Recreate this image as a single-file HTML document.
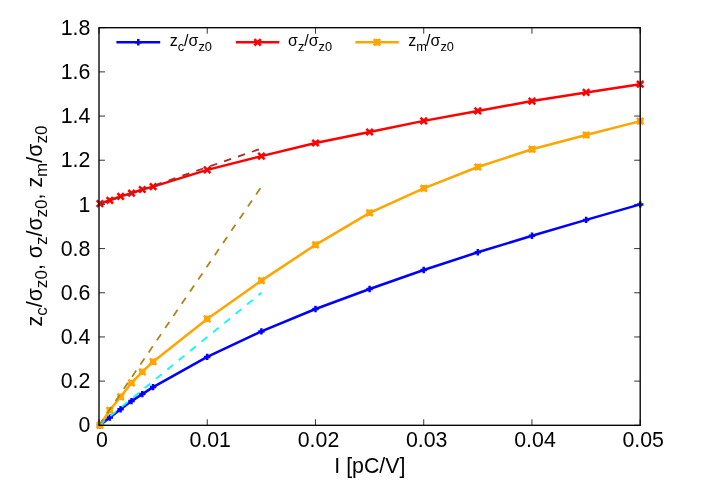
<!DOCTYPE html>
<html><head><meta charset="utf-8"><title>plot</title>
<style>
html,body{margin:0;padding:0;background:#fff;}
body{width:706px;height:494px;overflow:hidden;}
svg{display:block;will-change:transform;}
text{font-family:"Liberation Sans",sans-serif;fill:#000;}
.t{font-size:21.33px;}
.k{font-size:16px;}
</style></head><body>
<svg width="706" height="494" viewBox="0 0 706 494">
<rect x="0" y="0" width="706" height="494" fill="#ffffff"/>
<path d="M99.0,425.30h6M640.2,425.30h-6M99.0,381.12h6M640.2,381.12h-6M99.0,336.94h6M640.2,336.94h-6M99.0,292.77h6M640.2,292.77h-6M99.0,248.59h6M640.2,248.59h-6M99.0,204.41h6M640.2,204.41h-6M99.0,160.23h6M640.2,160.23h-6M99.0,116.06h6M640.2,116.06h-6M99.0,71.88h6M640.2,71.88h-6M99.0,27.70h6M640.2,27.70h-6M99.00,425.3v-6M99.00,27.7v6M207.24,425.3v-6M207.24,27.7v6M315.48,425.3v-6M315.48,27.7v6M423.72,425.3v-6M423.72,27.7v6M531.96,425.3v-6M531.96,27.7v6M640.20,425.3v-6M640.20,27.7v6" stroke="#000" stroke-width="0.8" fill="none"/>
<text class="t" x="90.3" y="432.4" text-anchor="end">0</text>
<text class="t" x="90.3" y="388.2" text-anchor="end">0.2</text>
<text class="t" x="90.3" y="344.0" text-anchor="end">0.4</text>
<text class="t" x="90.3" y="299.9" text-anchor="end">0.6</text>
<text class="t" x="90.3" y="255.7" text-anchor="end">0.8</text>
<text class="t" x="90.3" y="211.5" text-anchor="end">1</text>
<text class="t" x="90.3" y="167.3" text-anchor="end">1.2</text>
<text class="t" x="90.3" y="123.2" text-anchor="end">1.4</text>
<text class="t" x="90.3" y="79.0" text-anchor="end">1.6</text>
<text class="t" x="90.3" y="34.8" text-anchor="end">1.8</text>
<text class="t" x="102.0" y="446.9" text-anchor="middle">0</text>
<text class="t" x="210.2" y="446.9" text-anchor="middle">0.01</text>
<text class="t" x="318.5" y="446.9" text-anchor="middle">0.02</text>
<text class="t" x="426.7" y="446.9" text-anchor="middle">0.03</text>
<text class="t" x="535.0" y="446.9" text-anchor="middle">0.04</text>
<text class="t" x="643.2" y="446.9" text-anchor="middle">0.05</text>
<text class="t" x="369.9" y="472.9" text-anchor="middle">I [pC/V]</text>
<text class="t" transform="translate(41.5,226) rotate(-90)" text-anchor="middle"><tspan dy="0">z</tspan><tspan font-size="17.07px" dy="5.9">c</tspan><tspan dy="-5.9">/σ</tspan><tspan font-size="17.07px" dy="5.9">z0</tspan><tspan dy="-5.9">, σ</tspan><tspan font-size="17.07px" dy="5.9">z</tspan><tspan dy="-5.9">/σ</tspan><tspan font-size="17.07px" dy="5.9">z0</tspan><tspan dy="-5.9">, z</tspan><tspan font-size="17.07px" dy="5.9">m</tspan><tspan dy="-5.9">/σ</tspan><tspan font-size="17.07px" dy="5.9">z0</tspan></text>
<g stroke="#0000ff" stroke-width="2.5" fill="none" stroke-linejoin="round"><path d="M116.4,42.3H160.2"/><polyline points="99.9,425.3 109.8,417.6 120.6,409.3 131.5,401.1 142.3,394.1 153.1,387.1 207.2,356.9 261.4,331.4 315.5,309.0 369.6,289.0 423.7,270.0 477.8,252.3 532.0,235.8 586.1,219.9 640.2,204.4"/><path stroke-width="2.5" d="M96.7,425.3H103.1M99.9,422.1V428.5M106.6,417.6H113.0M109.8,414.4V420.8M117.4,409.3H123.8M120.6,406.1V412.5M128.3,401.1H134.7M131.5,397.9V404.3M139.1,394.1H145.5M142.3,390.9V397.3M149.9,387.1H156.3M153.1,383.9V390.3M204.0,356.9H210.4M207.2,353.7V360.1M258.2,331.4H264.6M261.4,328.2V334.6M312.3,309.0H318.7M315.5,305.8V312.2M366.4,289.0H372.8M369.6,285.8V292.2M420.5,270.0H426.9M423.7,266.8V273.2M474.6,252.3H481.0M477.8,249.1V255.5M528.8,235.8H535.2M532.0,232.6V239.0M582.9,219.9H589.3M586.1,216.7V223.1M637.0,204.4H643.4M640.2,201.2V207.6M135.1,42.3H141.5M138.3,39.1V45.5"/></g>
<g stroke="#ff0000" stroke-width="2.5" fill="none" stroke-linejoin="round"><path d="M235.9,42.3H279.2"/><polyline points="99.9,203.6 109.8,200.3 120.6,196.4 131.5,193.2 142.3,189.5 153.1,186.6 207.2,169.9 261.4,156.1 315.5,143.0 369.6,132.0 423.7,120.9 477.8,110.9 532.0,101.1 586.1,92.4 640.2,84.2"/><path stroke-width="2.5" d="M96.7,200.4L103.1,206.8M96.7,206.8L103.1,200.4M106.6,197.1L113.0,203.5M106.6,203.5L113.0,197.1M117.4,193.2L123.8,199.6M117.4,199.6L123.8,193.2M128.3,190.0L134.7,196.4M128.3,196.4L134.7,190.0M139.1,186.3L145.5,192.7M139.1,192.7L145.5,186.3M149.9,183.4L156.3,189.8M149.9,189.8L156.3,183.4M204.0,166.7L210.4,173.1M204.0,173.1L210.4,166.7M258.2,152.9L264.6,159.3M258.2,159.3L264.6,152.9M312.3,139.8L318.7,146.2M312.3,146.2L318.7,139.8M366.4,128.8L372.8,135.2M366.4,135.2L372.8,128.8M420.5,117.7L426.9,124.1M420.5,124.1L426.9,117.7M474.6,107.7L481.0,114.1M474.6,114.1L481.0,107.7M528.8,97.9L535.2,104.3M528.8,104.3L535.2,97.9M582.9,89.2L589.3,95.6M582.9,95.6L589.3,89.2M637.0,81.0L643.4,87.4M637.0,87.4L643.4,81.0M254.4,39.1L260.8,45.5M254.4,45.5L260.8,39.1"/></g>
<g stroke="#ffa500" stroke-width="2.5" fill="none" stroke-linejoin="round"><path d="M355.4,42.3H398.7"/><polyline points="99.9,425.3 109.8,410.3 120.6,396.8 131.5,382.9 142.3,371.9 153.1,361.7 207.2,318.9 261.4,280.6 315.5,244.8 369.6,212.8 423.7,188.3 477.8,167.0 532.0,149.3 586.1,135.0 640.2,121.1"/><path stroke-width="2.5" d="M96.7,425.3H103.1M99.9,422.1V428.5M96.7,422.1L103.1,428.5M96.7,428.5L103.1,422.1M106.6,410.3H113.0M109.8,407.1V413.5M106.6,407.1L113.0,413.5M106.6,413.5L113.0,407.1M117.4,396.8H123.8M120.6,393.6V400.0M117.4,393.6L123.8,400.0M117.4,400.0L123.8,393.6M128.3,382.9H134.7M131.5,379.7V386.1M128.3,379.7L134.7,386.1M128.3,386.1L134.7,379.7M139.1,371.9H145.5M142.3,368.7V375.1M139.1,368.7L145.5,375.1M139.1,375.1L145.5,368.7M149.9,361.7H156.3M153.1,358.5V364.9M149.9,358.5L156.3,364.9M149.9,364.9L156.3,358.5M204.0,318.9H210.4M207.2,315.7V322.1M204.0,315.7L210.4,322.1M204.0,322.1L210.4,315.7M258.2,280.6H264.6M261.4,277.4V283.8M258.2,277.4L264.6,283.8M258.2,283.8L264.6,277.4M312.3,244.8H318.7M315.5,241.6V248.0M312.3,241.6L318.7,248.0M312.3,248.0L318.7,241.6M366.4,212.8H372.8M369.6,209.6V216.0M366.4,209.6L372.8,216.0M366.4,216.0L372.8,209.6M420.5,188.3H426.9M423.7,185.1V191.5M420.5,185.1L426.9,191.5M420.5,191.5L426.9,185.1M474.6,167.0H481.0M477.8,163.8V170.2M474.6,163.8L481.0,170.2M474.6,170.2L481.0,163.8M528.8,149.3H535.2M532.0,146.1V152.5M528.8,146.1L535.2,152.5M528.8,152.5L535.2,146.1M582.9,135.0H589.3M586.1,131.8V138.2M582.9,131.8L589.3,138.2M582.9,138.2L589.3,131.8M637.0,121.1H643.4M640.2,117.9V124.3M637.0,117.9L643.4,124.3M637.0,124.3L643.4,117.9M373.8,42.3H380.2M377.0,39.1V45.5M373.8,39.1L380.2,45.5M373.8,45.5L380.2,39.1"/></g>
<path d="M99.0,425.3L261.4,292.8" stroke="#00ffff" stroke-width="1.8" stroke-dasharray="7.35,7.35" fill="none"/>
<path d="M99.0,425.3L261.4,186.7" stroke="#ab861a" stroke-width="1.8" stroke-dasharray="7.35,7.35" fill="none"/>
<path d="M99.0,204.4L261.4,148.5" stroke="#a52a2a" stroke-width="1.8" stroke-dasharray="7.35,7.35" fill="none"/>
<text class="k" x="169.7" y="46.2">z<tspan font-size="12.8px" dy="4.4">c</tspan><tspan dy="-4.4" dx="0">/σ</tspan><tspan font-size="12.8px" dy="4.4">z0</tspan></text>
<text class="k" x="288.0" y="46.2">σ<tspan font-size="12.8px" dy="4.4">z</tspan><tspan dy="-4.4" dx="0">/σ</tspan><tspan font-size="12.8px" dy="4.4">z0</tspan></text>
<text class="k" x="408.2" y="46.2">z<tspan font-size="12.8px" dy="4.4">m</tspan><tspan dy="-4.4" dx="-0.8">/σ</tspan><tspan font-size="12.8px" dy="4.4">z0</tspan></text>
<rect x="99.0" y="27.7" width="541.2" height="397.6" fill="none" stroke="#000" stroke-width="1.35"/>
</svg></body></html>
